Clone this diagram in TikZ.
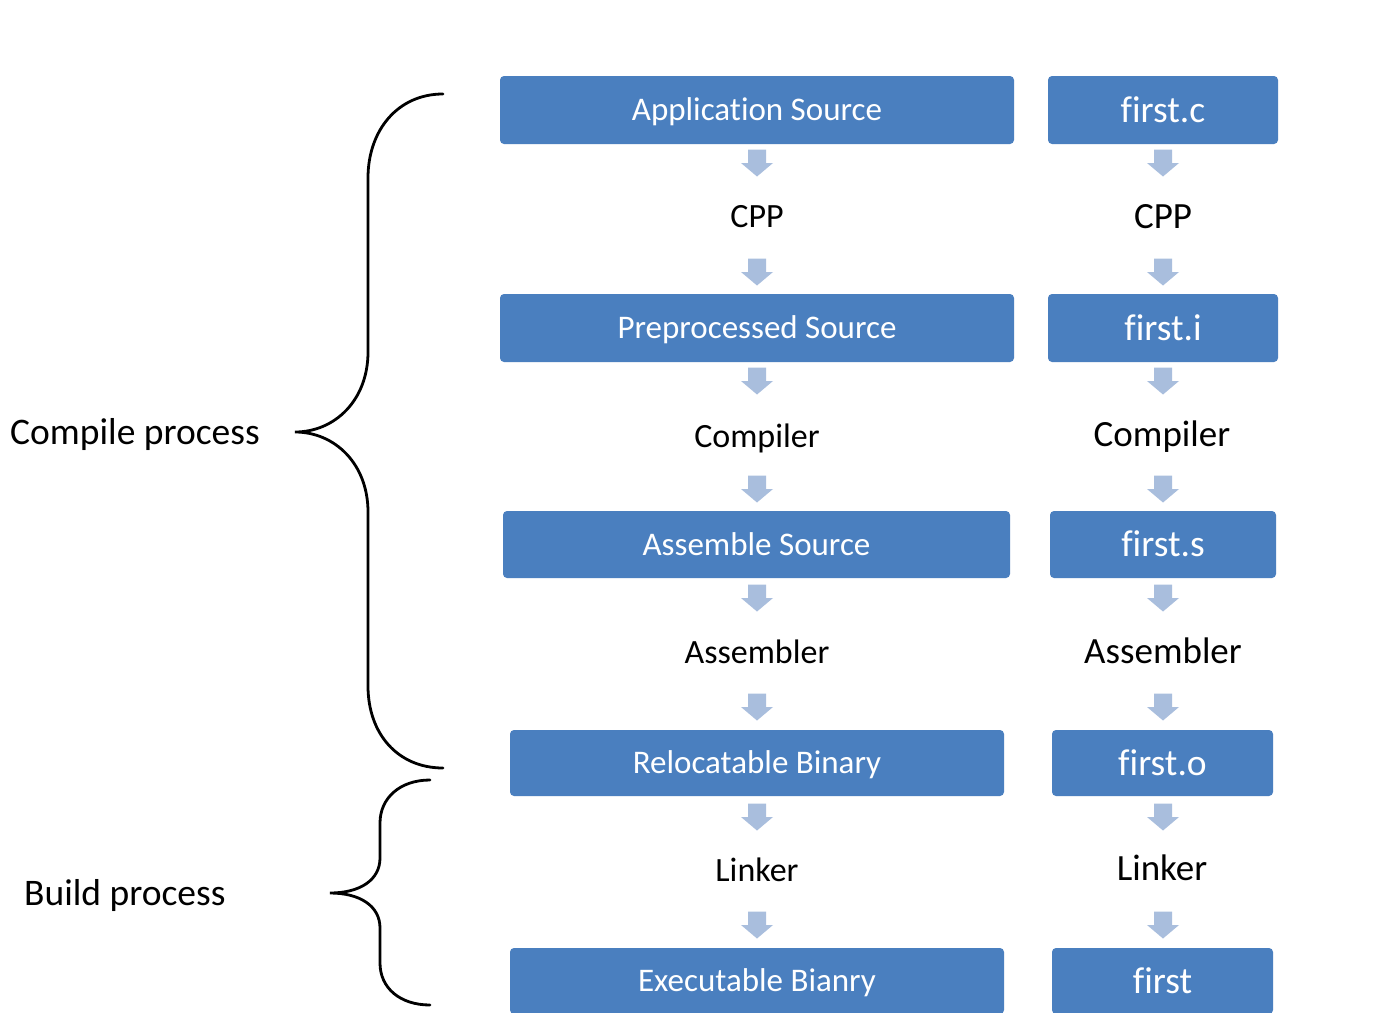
\documentclass[tikz,border=0pt]{standalone}
\usepackage{fontspec}
\setmainfont{Carlito}[Ligatures=NoCommon]
\definecolor{boxblue}{HTML}{4A7FBF}
\definecolor{arrowc}{HTML}{A9BEDD}
\begin{document}
\begin{tikzpicture}[x=1pt,y=-1pt,
  captext/.style={inner sep=0pt,text depth=0pt},
  lbox/.style={captext,fill=boxblue,rounded corners=4pt,text=white,minimum height=68pt,font=\fontsize{33}{36}\selectfont,text height=21.2pt},
  rbox/.style={lbox,font=\fontsize{37.5}{40}\selectfont,text height=24.1pt},
  llab/.style={captext,font=\fontsize{34}{37}\selectfont,text height=21.9pt},
  rlab/.style={captext,font=\fontsize{37}{40}\selectfont,text height=23.8pt},
  side/.style={captext,anchor=west,font=\fontsize{37.5}{40}\selectfont,text height=24.1pt},
  brace/.style={line width=2.8pt,line cap=round},
  downarr/.pic={\fill[arrowc] (-9,-13.5) -- (9,-13.5) -- (9,0) -- (16,0) -- (0,13.5) -- (-16,0) -- (-9,0) -- cycle;}
]
\useasboundingbox (0,0) rectangle (1384,1012);
\clip (0,0) rectangle (1384,1012);
\fill[white] (0,0) rectangle (1384,1012);

% left column boxes
\node[lbox,minimum width=514pt] (b1) at (757,110) {Application Source};
\node[lbox,minimum width=514pt] (b2) at (757,328) {Preprocessed Source};
\node[lbox,minimum width=507pt,minimum height=67pt] (b3) at (756.5,544.5) {Assemble Source};
\node[lbox,minimum width=494pt,minimum height=66pt] (b4) at (757,763) {Relocatable Binary};
\node[lbox,minimum width=494pt,minimum height=66pt] (b5) at (757,981) {Executable Bianry};

% right column boxes
\node[rbox,minimum width=230pt] (r1) at (1163,110) {first.c};
\node[rbox,minimum width=230pt] (r2) at (1163,328) {first.i};
\node[rbox,minimum width=226pt,minimum height=67pt] (r3) at (1163,544.5) {first.s};
\node[rbox,minimum width=221pt,minimum height=66pt] (r4) at (1162.5,763) {first.o};
\node[rbox,minimum width=221pt,minimum height=66pt] (r5) at (1162.5,981) {first};

% tool labels
\node[llab] (l1) at (757,217) {CPP};
\node[llab] (l2) at (757,437) {Compiler};
\node[llab] (l3) at (757,653) {Assembler};
\node[llab] (l4) at (757,871) {Linker};
\node[rlab] (m1) at (1163,217) {CPP};
\node[rlab] (m2) at (1162,435) {Compiler};
\node[rlab] (m3) at (1163,652) {Assembler};
\node[rlab] (m4) at (1162,869) {Linker};

% arrows
\foreach \y [count=\i] in {163,272,381,489,598,707,817,925}{
  \pic (la\i) at (757,\y) {downarr};
  \pic (ra\i) at (1163,\y) {downarr};
}

% side labels
\node[side] (cp) at (10,432) {Compile process};
\node[side] (bp) at (24,893) {Build process};

% braces
\draw[brace] (443,94) .. controls (398,94) and (368,130) .. (368,178)
  -- (368,352) .. controls (368,400) and (335,432) .. (295,432)
  .. controls (335,432) and (368,464) .. (368,512)
  -- (368,686) .. controls (368,734) and (398,768) .. (443,768);
\draw[brace] (430,780) .. controls (400,780) and (380,798) .. (380,823)
  -- (380,858) .. controls (380,880) and (360,893) .. (330,893)
  .. controls (360,893) and (380,906) .. (380,928)
  -- (380,963) .. controls (380,988) and (400,1005) .. (430,1005);
\end{tikzpicture}
\end{document}
